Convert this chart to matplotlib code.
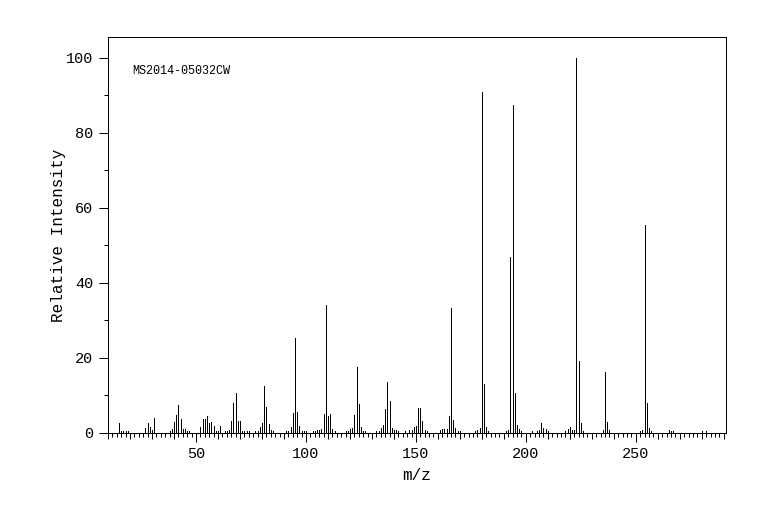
import numpy as np
import matplotlib
matplotlib.use('Agg')
import matplotlib.pyplot as plt
from matplotlib.ticker import MultipleLocator


# Widmo masowe
#
mz = [15, 16, 17, 18, 19, 27, 28, 29, 30, 31,
      38, 39, 40, 41, 42, 43, 44, 45, 46, 47,
      52, 53, 54, 55, 56, 57, 58, 59, 60, 61, 63, 64, 65,
      66, 67, 68, 69, 70, 71, 72, 73, 74, 77, 78, 79, 80,
      81, 82, 83, 84, 85, 91, 92, 93, 94, 95, 96, 97, 98, 99, 100,
      103, 104, 105, 106, 107, 108, 109, 110, 111, 112, 113,
      118, 119, 120, 121, 122, 123, 124, 125, 126, 127,
      132, 133, 134, 135, 136, 137, 138, 139, 140, 141, 142,
      145, 147, 148, 149, 150, 151, 152, 153, 154, 155,
      161, 162, 163, 164, 165, 166, 167, 168, 169, 170,
      177, 178, 179, 180, 181, 182, 183,
      191, 192, 193, 194, 195, 196, 197, 198,
      203, 205, 206, 207, 208, 209, 210,
      218, 219, 220, 221, 222, 223, 224, 225, 226,
      235, 236, 237, 238,
      252, 253, 254, 255, 256, 257,
      265, 266, 267, 280, 282]

intensity = [2.6, 0.5, 0.5, 0.5, 0.5, 1.2, 2.6, 1.5, 0.7, 3.9,
             0.4, 1.0, 2.8, 4.8, 7.4, 3.6, 1.0, 1.0, 0.4, 0.4,
             1.6, 3.6, 3.6, 4.4, 2.6, 2.8, 1.8, 0.4, 0.4, 1.8, 0.4, 0.4, 0.8,
             3.2, 8.0, 10.7, 3.2, 3.2, 0.5, 0.5, 0.5, 0.5, 0.5, 0.5, 1.5, 2.6,
             12.5, 6.8, 2.3, 0.8, 0.5, 0.5, 0.5, 1.5, 5.3, 25.2, 5.6, 1.8, 0.5, 0.5, 0.5,
             0.5, 0.5, 0.8, 0.8, 1.1, 5.1, 34.0, 4.4, 5.1, 1.1, 0.5,
             0.5, 0.5, 1.1, 1.3, 4.7, 17.6, 7.6, 1.5, 0.5, 0.5,
             0.5, 0.5, 1.2, 2.1, 6.3, 13.6, 8.5, 1.2, 0.8, 0.8, 0.5,
             0.5, 0.8, 0.8, 1.5, 1.8, 6.6, 6.6, 3.2, 0.8, 0.5,
             0.8, 1.1, 1.1, 1.1, 4.4, 33.2, 3.5, 1.3, 0.5, 0.5,
             0.5, 0.8, 1.3, 91.0, 13.1, 1.5, 0.5,
             0.5, 0.8, 46.8, 87.5, 10.7, 2.0, 1.1, 0.5,
             0.5, 0.5, 0.8, 2.6, 1.3, 1.1, 0.5,
             0.5, 1.1, 1.5, 0.8, 0.8, 100.0, 19.1, 2.6, 0.5,
             0.8, 16.2, 2.9, 0.8,
             0.5, 0.8, 55.5, 8.0, 1.3, 0.5,
             0.8, 0.5, 0.5, 0.5, 0.5]

NAZWA = 'MS2014-05032CW'

px = 0.72  # 1 piksel w punktach przy dpi=100

plt.rcParams['font.family'] = ['Liberation Mono', 'DejaVu Sans Mono']

fig = plt.figure(figsize=(7.84, 5.24), dpi=100)
ax = fig.add_axes([108/784, 1 - 432.7/524, 618/784, (432.7 - 37.3)/524])

ax.vlines(mz, 0, intensity, colors='black', linewidth=1.0*px,
          antialiased=False)

ax.set_xlim(10, 291)
ax.set_ylim(0, 105.5)

# osie i znaczniki
ax.xaxis.set_major_locator(MultipleLocator(50))
ax.xaxis.set_minor_locator(MultipleLocator(2))
ax.yaxis.set_major_locator(MultipleLocator(20))
ax.yaxis.set_minor_locator(MultipleLocator(10))
ax.tick_params(axis='x', which='major', length=9*px, width=px,
               labelsize=11, pad=4)
ax.tick_params(axis='x', which='minor', length=4*px, width=px)
ax.tick_params(axis='y', which='major', length=9*px, width=px,
               labelsize=11, pad=4)
ax.tick_params(axis='y', which='minor', length=4*px, width=px)

sec = ax.secondary_xaxis('bottom')
sec.xaxis.set_major_locator(MultipleLocator(10))
sec.tick_params(length=6*px, width=px, labelbottom=False)
sec.spines['bottom'].set_visible(False)

for s in ax.spines.values():
    s.set_linewidth(px)

ax.set_xlabel('m/z', fontsize=11.5, labelpad=5)
ax.set_ylabel('Relative Intensity', fontsize=11.5, labelpad=0)

ax.text(0.040, 0.914, NAZWA, transform=ax.transAxes, fontsize=8.5,
        va='center', ha='left')

fig.savefig('out.png', dpi=100)
